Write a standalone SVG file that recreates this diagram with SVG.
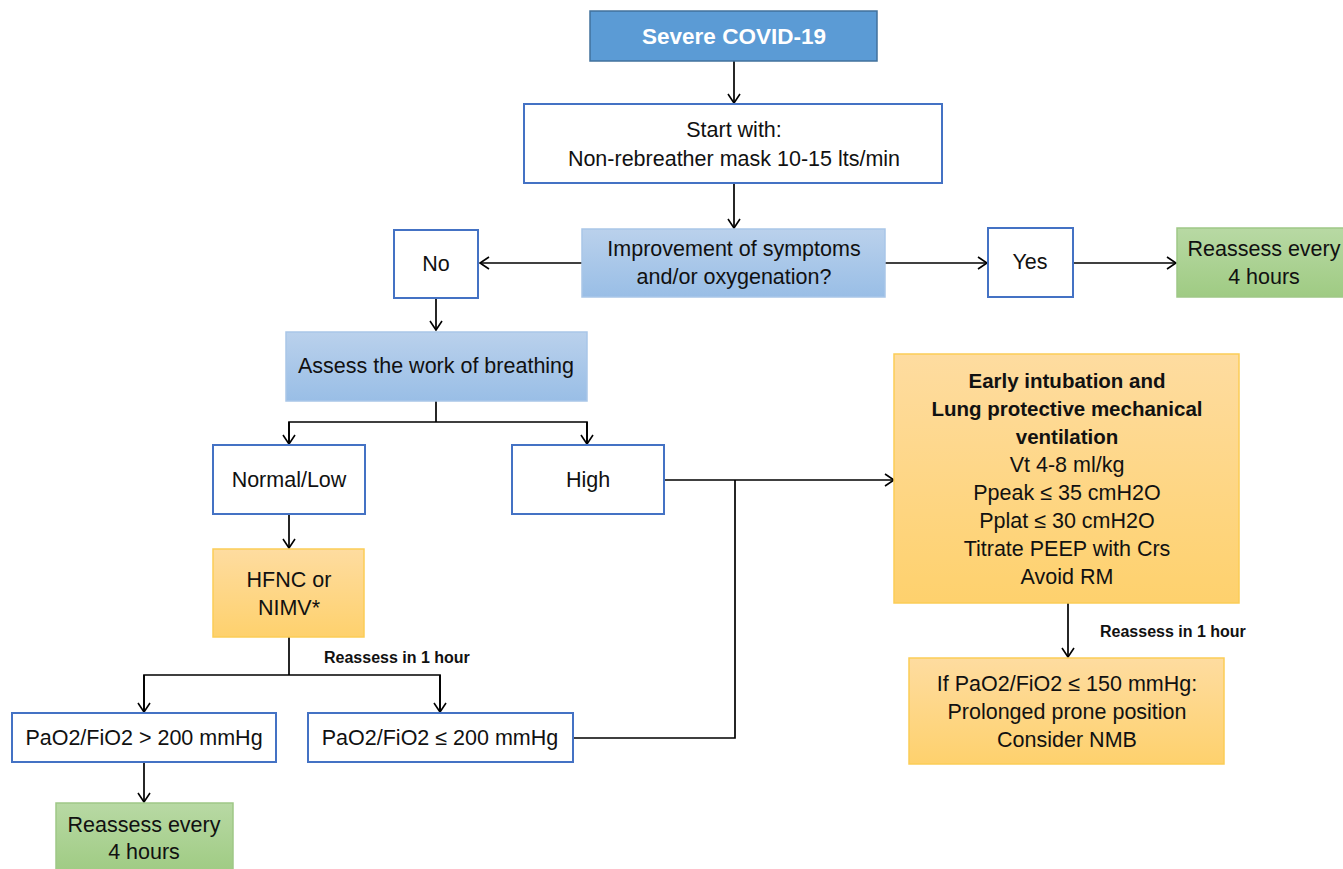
<svg xmlns="http://www.w3.org/2000/svg" width="1343" height="869" viewBox="0 0 1343 869">
<defs>
  <linearGradient id="gBlue" x1="0" y1="0" x2="0" y2="1">
    <stop offset="0" stop-color="#bad1ec"/>
    <stop offset="1" stop-color="#99bee6"/>
  </linearGradient>
  <linearGradient id="gGreen" x1="0" y1="0" x2="0" y2="1">
    <stop offset="0" stop-color="#b8d9a4"/>
    <stop offset="1" stop-color="#9fcb83"/>
  </linearGradient>
  <linearGradient id="gOrange" x1="0" y1="0" x2="0" y2="1">
    <stop offset="0" stop-color="#fedca0"/>
    <stop offset="1" stop-color="#fed16d"/>
  </linearGradient>
  <marker id="arr" viewBox="-11 -8 13 16" refX="0" refY="0" markerWidth="13" markerHeight="16" markerUnits="userSpaceOnUse" orient="auto">
    <path d="M-9,-6 L0,0 L-9,6" fill="none" stroke="#000" stroke-width="1.6"/>
  </marker>
  <style>
    text { font-family: "Liberation Sans", Arial, sans-serif; fill: #111; text-anchor: middle; }
    .t { font-size: 21.5px; }
    .b { font-size: 20.5px; font-weight: bold; }
    .lbl { font-size: 16px; font-weight: bold; text-anchor: start; }
    .title { font-size: 22.5px; font-weight: bold; fill: #fff; }
    .white { fill: #fff; stroke: #4472c4; stroke-width: 2; }
    .blue { fill: url(#gBlue); stroke: #a9c6e8; stroke-width: 1.5; }
    .green { fill: url(#gGreen); stroke: #9fc786; stroke-width: 1.5; }
    .orange { fill: url(#gOrange); stroke: #fbcd57; stroke-width: 1.5; }
    .c { fill: none; stroke: #000; stroke-width: 1.7; }
  </style>
</defs>
<rect width="1343" height="869" fill="#fff"/>

<g id="connectors">
  <line class="c" x1="734" y1="61" x2="734" y2="103" marker-end="url(#arr)"/>
  <line class="c" x1="734" y1="183" x2="734" y2="228" marker-end="url(#arr)"/>
  <line class="c" x1="582" y1="263" x2="480" y2="263" marker-end="url(#arr)"/>
  <line class="c" x1="885" y1="263" x2="987" y2="263" marker-end="url(#arr)"/>
  <line class="c" x1="1073" y1="263" x2="1176" y2="263" marker-end="url(#arr)"/>
  <line class="c" x1="436" y1="298" x2="436" y2="330" marker-end="url(#arr)"/>
  <polyline class="c" points="436,401 436,422"/>
  <polyline class="c" points="289,444 289,422 587,422 587,444"/>
  <line class="c" x1="289" y1="422" x2="289" y2="444" marker-end="url(#arr)"/>
  <line class="c" x1="587" y1="422" x2="587" y2="444" marker-end="url(#arr)"/>
  <line class="c" x1="289" y1="514" x2="289" y2="548" marker-end="url(#arr)"/>
  <polyline class="c" points="289,637 289,675"/>
  <polyline class="c" points="144,712 144,675 440,675 440,712"/>
  <line class="c" x1="144" y1="675" x2="144" y2="712" marker-end="url(#arr)"/>
  <line class="c" x1="440" y1="675" x2="440" y2="712" marker-end="url(#arr)"/>
  <line class="c" x1="144" y1="762" x2="144" y2="802" marker-end="url(#arr)"/>
  <line class="c" x1="664" y1="480" x2="894" y2="480" marker-end="url(#arr)"/>
  <polyline class="c" points="573,738 735,738 735,480"/>
  <line class="c" x1="1068" y1="603" x2="1068" y2="657" marker-end="url(#arr)"/>
  <text class="lbl" x="324" y="663">Reassess in 1 hour</text>
  <text class="lbl" x="1100" y="637">Reassess in 1 hour</text>
</g>

<g id="severe">
  <rect x="590" y="11" width="287" height="50" fill="#5b9bd5" stroke="#41719c" stroke-width="1.5"/>
  <text class="title" x="734" y="44">Severe COVID-19</text>
</g>

<g id="start">
  <rect class="white" x="524" y="104" width="418" height="79"/>
  <text class="t" x="734" y="137">Start with:</text>
  <text class="t" x="734" y="166">Non-rebreather mask 10-15 lts/min</text>
</g>

<g id="improvement">
  <rect class="blue" x="582" y="229" width="303" height="68"/>
  <text class="t" x="734" y="256">Improvement of symptoms</text>
  <text class="t" x="734" y="284">and/or oxygenation?</text>
</g>

<g id="no">
  <rect class="white" x="394" y="230" width="84" height="68"/>
  <text class="t" x="436" y="271">No</text>
</g>

<g id="yes">
  <rect class="white" x="988" y="228" width="85" height="69"/>
  <text class="t" x="1030" y="269">Yes</text>
</g>

<g id="reassess-top">
  <rect class="green" x="1177" y="228" width="170" height="69"/>
  <text class="t" x="1264" y="256">Reassess every</text>
  <text class="t" x="1264" y="284">4 hours</text>
</g>

<g id="assess">
  <rect class="blue" x="286" y="332" width="301" height="69"/>
  <text class="t" x="436" y="373">Assess the work of breathing</text>
</g>

<g id="normal">
  <rect class="white" x="213" y="445" width="152" height="69"/>
  <text class="t" x="289" y="487">Normal/Low</text>
</g>

<g id="high">
  <rect class="white" x="512" y="445" width="152" height="69"/>
  <text class="t" x="588" y="487">High</text>
</g>

<g id="hfnc">
  <rect class="orange" x="213" y="549" width="151" height="88"/>
  <text class="t" x="289" y="587">HFNC or</text>
  <text class="t" x="289" y="615">NIMV*</text>
</g>

<g id="pao2-high">
  <rect class="white" x="12" y="713" width="264" height="49"/>
  <text class="t" x="144" y="745">PaO2/FiO2 &gt; 200 mmHg</text>
</g>

<g id="pao2-low">
  <rect class="white" x="308" y="713" width="265" height="49"/>
  <text class="t" x="440" y="745">PaO2/FiO2 ≤ 200 mmHg</text>
</g>

<g id="reassess-bottom">
  <rect class="green" x="56" y="803" width="177" height="70"/>
  <text class="t" x="144" y="832">Reassess every</text>
  <text class="t" x="144" y="859">4 hours</text>
</g>

<g id="intubation">
  <rect class="orange" x="894" y="354" width="345" height="249"/>
  <text class="b" x="1067" y="388">Early intubation and</text>
  <text class="b" x="1067" y="416">Lung protective mechanical</text>
  <text class="b" x="1067" y="444">ventilation</text>
  <text class="t" x="1067" y="472">Vt 4-8 ml/kg</text>
  <text class="t" x="1067" y="500">Ppeak ≤ 35 cmH2O</text>
  <text class="t" x="1067" y="528">Pplat ≤ 30 cmH2O</text>
  <text class="t" x="1067" y="556">Titrate PEEP with Crs</text>
  <text class="t" x="1067" y="584">Avoid RM</text>
</g>

<g id="prone">
  <rect class="orange" x="909" y="658" width="315" height="106"/>
  <text class="t" x="1067" y="691">If PaO2/FiO2 ≤ 150 mmHg:</text>
  <text class="t" x="1067" y="719">Prolonged prone position</text>
  <text class="t" x="1067" y="747">Consider NMB</text>
</g>
</svg>
